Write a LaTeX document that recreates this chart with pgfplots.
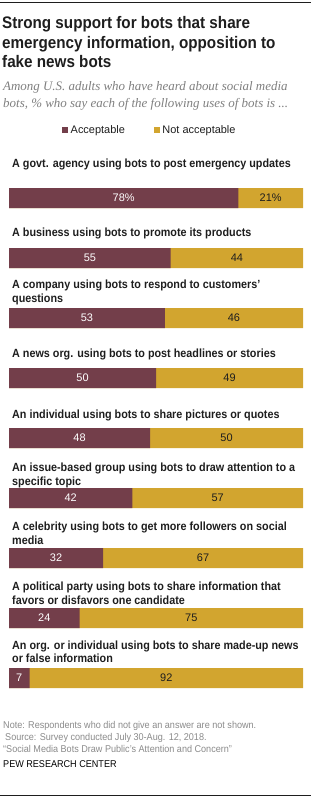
\documentclass[border=0pt]{standalone}
\usepackage{pgfplots}
\pgfplotsset{compat=1.18}
\usepackage{pgfplotstable}
\usepackage{fontspec}
\setmainfont{Liberation Sans}
\newfontfamily\condf[FakeStretch=0.91, Ligatures=TeX]{Liberation Sans}
\newfontfamily\notef[FakeStretch=0.92, Ligatures=TeX]{Liberation Sans}
\newfontfamily\serf{Liberation Serif}
\definecolor{acc}{HTML}{733E4A}
\definecolor{nac}{HTML}{D2A52F}
\definecolor{subg}{HTML}{7F7F7F}
\definecolor{noteg}{HTML}{8A8A8A}
\definecolor{txt}{HTML}{1E1E1E}

\pgfplotstableread{
idx acc nac acclab naclab
1 78 21 78\% 21\%
2 55 44 55 44
3 53 46 53 46
4 50 49 50 49
5 48 50 48 50
6 42 57 42 57
7 32 67 32 67
8 24 75 24 75
9 7 92 7 92
}\data

\begin{document}
\begin{tikzpicture}
\begin{axis}[
  scale only axis, width=294bp, height=807bp,
  xmin=0, xmax=100, ymin=-2.3, ymax=11.15, y dir=reverse,
  hide axis, clip=false,
  legend columns=2,
  legend image code/.code={\fill (0bp,-3bp) rectangle (6bp,3bp);},
  legend style={at={(axis cs:18.03,-0.133)}, anchor=west, draw=none, fill=none,
    inner xsep=0pt, inner ysep=0pt, nodes={inner sep=0pt, text=txt},
    font=\fontsize{11}{13}\selectfont,
    /tikz/every odd column/.append style={column sep=2.5bp},
    /tikz/every even column/.append style={column sep=29bp}},
]
\addlegendimage{fill=acc, draw=none}
\addlegendentry{Acceptable}
\addlegendimage{fill=nac, draw=none}
\addlegendentry{Not acceptable}
% yellow: full remainder of each bar (drawn behind the maroon share)
\addplot[xbar, bar width=20bp, bar shift=0pt, fill=nac, draw=none, forget plot]
  table[x expr=100, y=idx] \data;
\addplot[xbar, bar width=20bp, bar shift=0pt, fill=acc, draw=none, forget plot]
  table[x=acc, y=idx] \data;
% value labels
\addplot[draw=none, mark=none, forget plot, nodes near coords, point meta=explicit symbolic,
  every node near coord/.style={anchor=center, inner sep=0pt, text=white, font=\fontsize{11}{13}\selectfont}]
  table[x expr=\thisrow{acc}/2, y=idx, meta=acclab] \data;
\addplot[draw=none, mark=none, forget plot, nodes near coords, point meta=explicit symbolic,
  every node near coord/.style={anchor=center, inner sep=0pt, text=txt, font=\fontsize{11}{13}\selectfont}]
  table[x expr=(\thisrow{acc}+100)/2, y=idx, meta=naclab] \data;
\end{axis}
\begin{scope}[shift={(-9bp,807bp)}, x=1bp, y=-1bp]
\draw[line width=1.2bp, txt] (0,2.5) -- (311,2.5);
\begin{scope}[every node/.style={anchor=base west, inner sep=0pt, text=txt}]
\node[font=\condf\bfseries\fontsize{16.8}{19.5}\selectfont] at (2,29) {Strong support for bots that share};
\node[font=\condf\bfseries\fontsize{16.8}{19.5}\selectfont] at (2,49) {emergency information, opposition to};
\node[font=\condf\bfseries\fontsize{16.8}{19.5}\selectfont] at (2,68) {fake news bots};
\node[font=\serf\itshape\fontsize{13}{16}\selectfont, text=subg] at (3,91) {Among U.S. adults who have heard about social media};
\node[font=\serf\itshape\fontsize{13}{16}\selectfont, text=subg] at (3,108) {bots, \% who say each of the following uses of bots is ...};
\end{scope}
\begin{scope}[every node/.style={anchor=base west, inner sep=0pt, text=txt, font=\condf\bfseries\fontsize{11.9}{14}\selectfont}]
\node at (12,168) {A govt. agency using bots to post emergency updates};
\node at (12,237) {A business using bots to promote its products};
\node at (12,289) {A company using bots to respond to customers’};
\node at (12,303) {questions};
\node at (12,358) {A news org. using bots to post headlines or stories};
\node at (12,419) {An individual using bots to share pictures or quotes};
\node at (12,472) {An issue-based group using bots to draw attention to a};
\node at (12,486) {specific topic};
\node at (12,531) {A celebrity using bots to get more followers on social};
\node at (12,545) {media};
\node at (12,591) {A political party using bots to share information that};
\node at (12,605) {favors or disfavors one candidate};
\node at (12,650) {An org. or individual using bots to share made-up news};
\node at (12,663) {or false information};
\end{scope}
\begin{scope}[every node/.style={anchor=base west, inner sep=0pt, text=noteg, font=\notef\fontsize{9.9}{12}\selectfont}]
\node at (3,729) {Note: Respondents who did not give an answer are not shown.};
\node at (5,741) {Source: Survey conducted July 30-Aug. 12, 2018.};
\node at (3,753) {“Social Media Bots Draw Public’s Attention and Concern”};
\node[text=black] at (3,768) {PEW RESEARCH CENTER};
\end{scope}
\draw[line width=0.8bp, txt] (0,795) -- (311,795);
\pgfresetboundingbox
\path (0,0) rectangle (311,807);
\end{scope}
\end{tikzpicture}
\end{document}
